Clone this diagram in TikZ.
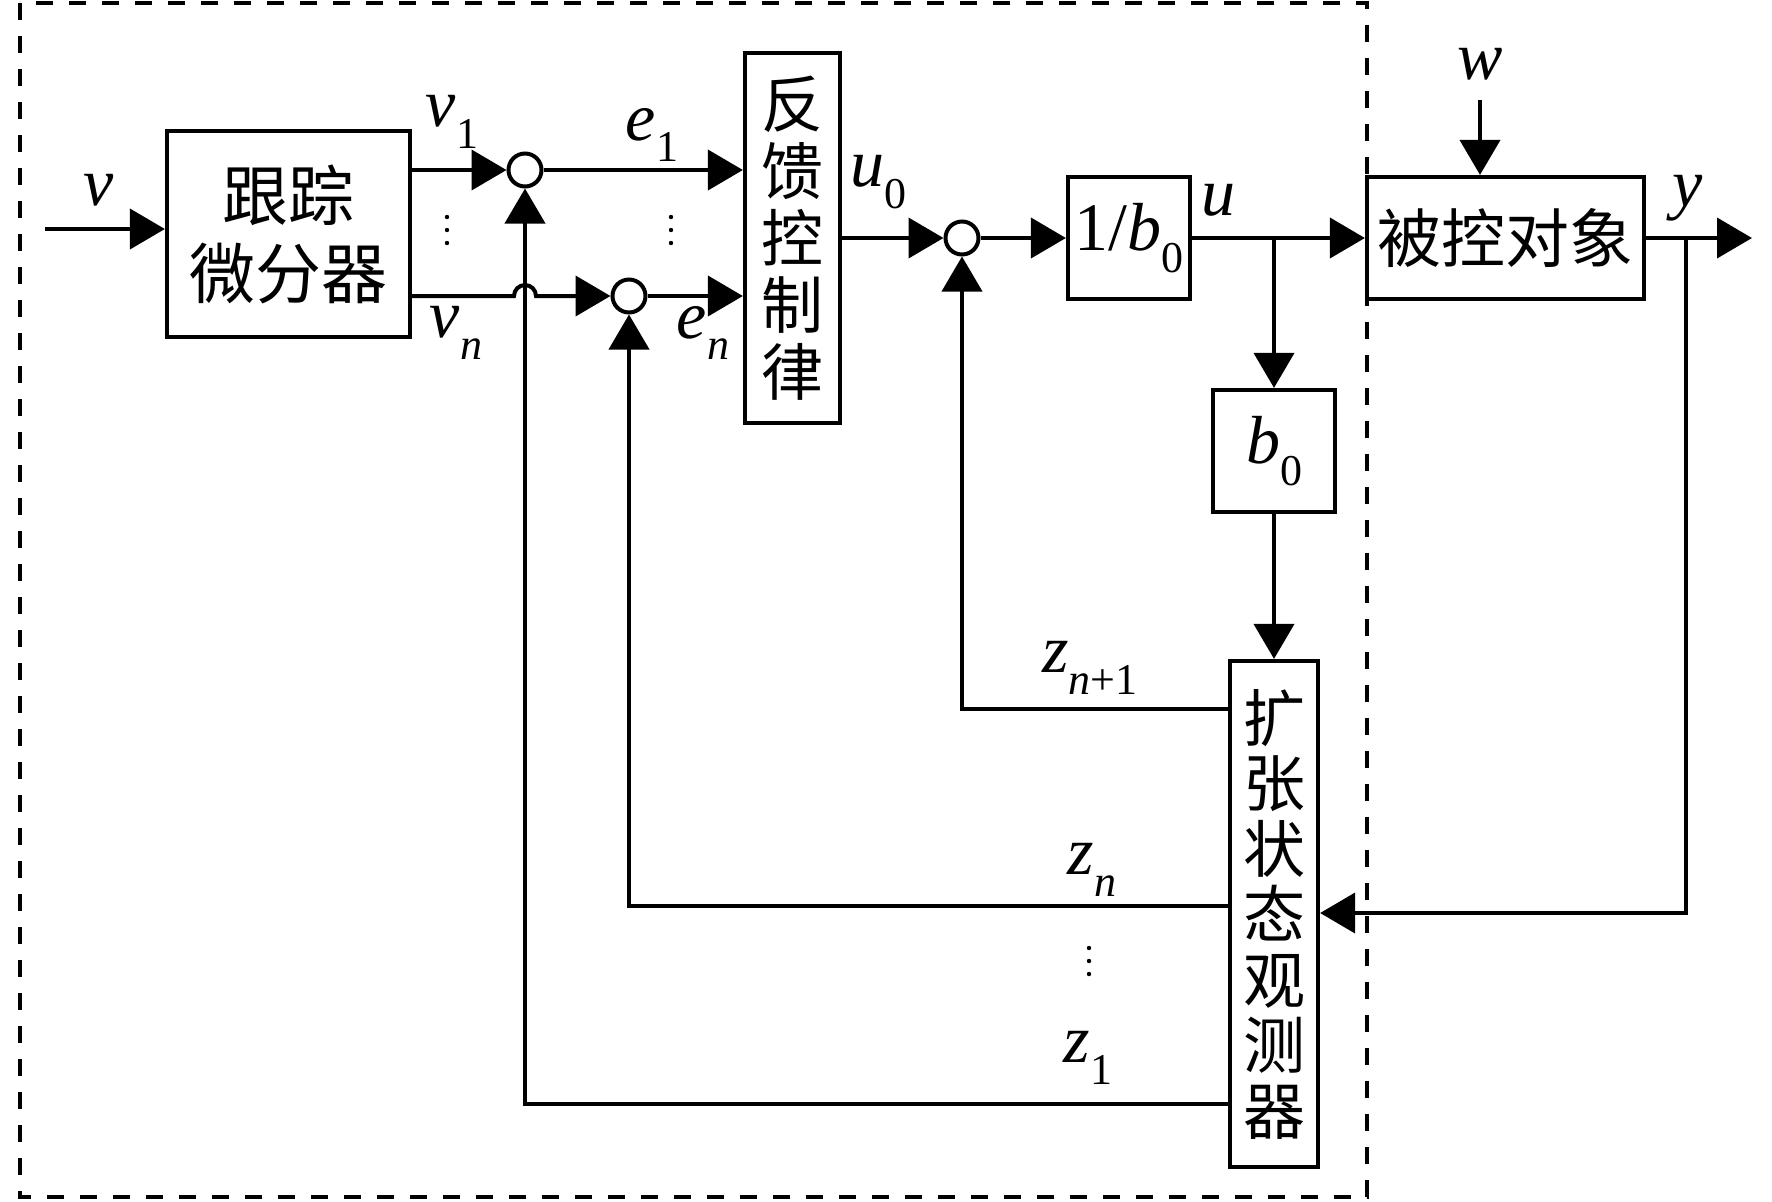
\documentclass[tikz,border=0pt]{standalone}
\usepackage{fontspec}
\setmainfont{Liberation Serif}
\newfontfamily\cjk{Noto Sans CJK SC}
\usetikzlibrary{arrows.meta}
\newcommand\sublab[2]{\textit{#1}\raisebox{-0.32em}{\fontsize{22}{24}\selectfont #2}}
\begin{document}
\begin{tikzpicture}[x=0.5pt,y=-0.5pt,
  blk/.style={draw, line width=2.1pt, inner sep=0pt, align=center},
  mblk/.style={blk, font=\fontsize{34}{38}\selectfont},
  sumc/.style={draw, circle, line width=2pt, minimum size=16.5pt, inner sep=0pt},
  conn/.style={line width=2pt},
  arr/.style={conn, -{Triangle[length=17.5pt,width=20pt]}},
  lab/.style={font=\fontsize{34}{38}\selectfont, inner sep=0pt},
  frame/.style={line width=2.2pt, dash pattern=on 8.5pt off 8pt},
  vdot/.pic={\foreach \k in {-13,0,13} \fill (0,\k) circle[radius=1.1pt];}
]
\useasboundingbox (0,0) rectangle (1772,1201);
% dashed frame
\draw[frame] (20,3) rectangle (1367,1197);

% blocks
\node[blk, minimum width=121.5pt, minimum height=103pt, font=\cjk\fontsize{33}{39}\selectfont] (td) at (288.5,234) {跟踪\\微分器};
\node[blk, minimum width=47.5pt, minimum height=185pt, font=\cjk\fontsize{31}{33.5}\selectfont] (fb) at (792.5,238) {反\\馈\\控\\制\\律};
\node[mblk, minimum width=61pt, minimum height=61pt] (ib) at (1129,238) {1/\sublab{b}{0}};
\node[blk, minimum width=138.5pt, minimum height=61pt, font=\cjk\fontsize{32}{36}\selectfont] (pl) at (1505.5,238) {被控对象};
\node[mblk, minimum width=61pt, minimum height=61pt] (b0) at (1274,451) {\sublab{b}{0}};
\node[blk, minimum width=44pt, minimum height=253pt, font=\cjk\fontsize{31}{32.75}\selectfont] (eso) at (1274,914) {扩\\张\\状\\态\\观\\测\\器};

% summing junctions
\node[sumc] (c1) at (525,170) {};
\node[sumc] (c2) at (629,296) {};
\node[sumc] (c3) at (962,238) {};

% coordinates
\coordinate (vin) at (45,229);
\coordinate (ub) at (1274,238);
\coordinate (yb) at (1686,238);
\coordinate (yout) at (1752,238);
\coordinate (win) at (1480,100);
\coordinate (zny) at (0,709);
\coordinate (zny2) at (0,906);
\coordinate (z1y) at (0,1104);
\coordinate (yfy) at (0,913);

% forward path
\draw[arr] (vin) -- (vin -| td.west);
\draw[arr] (td.east |- c1) -- (c1);
\draw[arr] (td.east |- c2) -- (514,296) arc[start angle=180, end angle=0, radius=5.5pt] -- (c2);
\draw[arr] (c1) -- (fb.west |- c1);
\draw[arr] (c2) -- (fb.west |- c2);
\draw[arr] (fb.east |- c3) -- (c3);
\draw[arr] (c3) -- (ib);
\draw[arr] (ib) -- (pl);
\draw[arr] (pl) -- (yout);
\draw[arr] (win) -- (win |- pl.north);
\draw[arr] (ub) -- (b0);
\draw[arr] (b0) -- (eso);
\draw[arr] (yb) |- (eso.east |- yfy);

% feedback from ESO
\draw[arr] (eso.west |- zny) -| (c3);
\draw[arr] (eso.west |- zny2) -| (c2);
\draw[arr] (eso.west |- z1y) -| (c1);

% labels
\node[lab] (lv) at (99,190) {\textit{v}};
\node[lab] (lv1) at (452,122) {\sublab{v}{1}};
\node[lab] (lvn) at (456,333) {\sublab{v}{\textit{n}}};
\node[lab] (le1) at (652,135) {\sublab{e}{1}};
\node[lab] (len) at (703,333) {\sublab{e}{\textit{n}}};
\node[lab] (lu0) at (878,182) {\sublab{u}{0}};
\node[lab] (lu) at (1218,200) {\textit{u}};
\node[lab] (lw) at (1480,64) {\textit{w}};
\node[lab] (ly) at (1688,198) {\textit{y}};
\node[lab] (lzn1) at (1090,668) {\sublab{z}{\textit{n}+1}};
\node[lab] (lzn) at (1092,870) {\sublab{z}{\textit{n}}};
\node[lab] (lz1) at (1088,1058) {\sublab{z}{1}};
\pic at (447,230) {vdot};
\pic at (671,230) {vdot};
\pic at (1089,961) {vdot};
\end{tikzpicture}
\end{document}
